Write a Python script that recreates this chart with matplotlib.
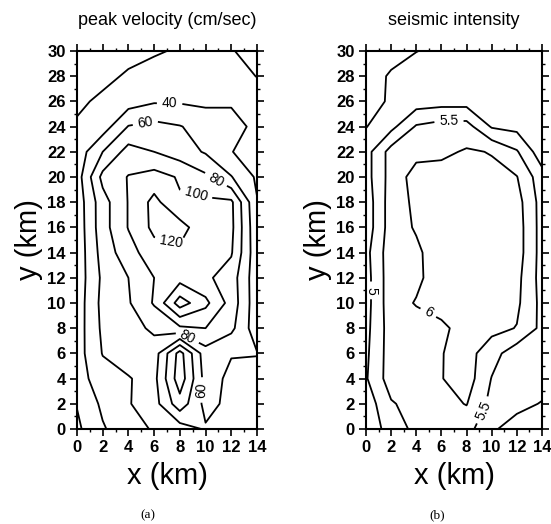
import numpy as np
import matplotlib
matplotlib.use("Agg")
import matplotlib.pyplot as plt
from matplotlib.ticker import MultipleLocator

# grid (km), 2 km spacing
x_km = [0, 2, 4, 6, 8, 10, 12, 14]
y_km = [0, 2, 4, 6, 8, 10, 12, 14, 16, 18, 20, 22, 24, 26, 28, 30]

# peak velocity (cm/sec), one row per y value
velocity = [
    [16, 38, 52, 62, 70, 58, 52, 48],
    [21, 44, 59, 68, 28, 66, 55, 52],
    [31, 51, 59, 66, 8, 68, 56, 52],
    [31, 61, 67, 70, 12, 72, 61, 61],
    [30, 64, 72, 84, 96, 100, 85, 48],
    [29, 66, 78, 102, 150, 125, 92, 47],
    [28, 64, 80, 100, 112, 104, 90, 47],
    [27, 68, 92, 112, 116, 110, 102, 46],
    [27, 72, 101, 125, 128, 106, 105, 44],
    [28, 72, 101, 126, 102, 104, 104, 41],
    [30, 86, 101, 108, 98, 84, 61, 37],
    [28, 60, 88, 80, 70, 58, 40.5, 33],
    [22, 30, 61, 66, 61, 52, 46, 36],
    [17, 23, 31, 38, 38, 36, 38, 30],
    [12, 16, 22, 27, 30, 32, 28, 19.5],
    [10, 12, 15, 18, 22, 26, 21, 14],
]

# seismic intensity
intensity = [
    [4.60, 5.25, 5.62, 5.65, 5.70, 5.05, 4.85, 4.80],
    [4.70, 5.45, 5.70, 5.85, 6.02, 5.35, 5.10, 4.98],
    [4.95, 5.75, 5.80, 5.98, 6.25, 5.48, 5.20, 5.15],
    [4.90, 5.75, 5.80, 5.98, 6.20, 5.70, 5.20, 5.20],
    [4.85, 5.75, 5.80, 5.90, 6.20, 6.15, 5.98, 5.37],
    [4.80, 5.80, 6.03, 6.20, 6.30, 6.25, 6.10, 5.35],
    [4.80, 5.80, 5.90, 6.25, 6.30, 6.30, 6.15, 5.30],
    [4.85, 5.80, 5.90, 6.30, 6.30, 6.30, 6.25, 5.30],
    [4.70, 5.75, 6.05, 6.30, 6.30, 6.30, 6.25, 5.30],
    [4.70, 5.75, 6.10, 6.30, 6.30, 6.30, 6.20, 5.30],
    [4.80, 5.70, 6.20, 6.20, 6.20, 6.10, 6.02, 5.20],
    [4.80, 5.70, 5.85, 5.90, 6.05, 5.98, 5.55, 4.70],
    [4.48, 4.85, 5.55, 5.70, 5.70, 4.95, 4.85, 4.80],
    [4.35, 4.55, 4.75, 4.80, 4.80, 4.78, 4.75, 4.70],
    [4.30, 4.55, 4.70, 4.80, 4.85, 4.85, 4.80, 4.75],
    [4.20, 4.35, 4.49, 4.60, 4.70, 4.75, 4.70, 4.60],
]

velocity_levels = [20, 40, 60, 80, 100, 120, 140]
intensity_levels = [4.5, 5.0, 5.5, 6.0]

# where the contour numbers sit
velocity_label_pos = [(7.2, 25.5), (5.3, 24.4), (10.7, 19.6), (9.2, 18.4),
                      (7.3, 14.8), (9.6, 3.1), (8.6, 7.3)]
intensity_label_pos = [(6.6, 24.4), (0.4, 11.0), (5.0, 9.3), (9.3, 1.5)]

plt.rcParams['font.family'] = ['Liberation Sans', 'DejaVu Sans']


def setup_axes(ax):
    ax.set_xlim(0, 14)
    ax.set_ylim(0, 30)
    ax.xaxis.set_major_locator(MultipleLocator(2))
    ax.yaxis.set_major_locator(MultipleLocator(2))
    ax.xaxis.set_minor_locator(MultipleLocator(1))
    ax.yaxis.set_minor_locator(MultipleLocator(1))
    ax.tick_params(which='major', direction='out', length=5, width=1.2,
                   top=True, right=True, labelsize=12, pad=3)
    ax.tick_params(which='minor', direction='out', length=2.5, width=1.0,
                   top=True, right=True)
    for lab in ax.get_xticklabels() + ax.get_yticklabels():
        lab.set_fontweight('bold')
    for sp in ax.spines.values():
        sp.set_linewidth(1.5)
    ax.set_xlabel('x (km)', fontsize=21, labelpad=5)
    ax.set_ylabel('y (km)', fontsize=21, labelpad=3)


fig = plt.figure(figsize=(5.51, 5.24), dpi=100)
ax_a = fig.add_axes([0.1397, 0.1813, 0.3267, 0.7214])
ax_b = fig.add_axes([0.6642, 0.1813, 0.3194, 0.7214])

X, Y = np.meshgrid(x_km, y_km)

cs_a = ax_a.contour(X, Y, np.array(velocity), levels=velocity_levels,
                    colors='black', linewidths=1.3)
ax_a.clabel(cs_a, fmt='%d', fontsize=10, inline=True,
            manual=velocity_label_pos)
setup_axes(ax_a)
ax_a.set_title('peak velocity (cm/sec)', fontsize=13, pad=19)

cs_b = ax_b.contour(X, Y, np.array(intensity), levels=intensity_levels,
                    colors='black', linewidths=1.3)
ax_b.clabel(cs_b, fmt='%g', fontsize=10, inline=True,
            manual=intensity_label_pos)
setup_axes(ax_b)
ax_b.set_title('seismic intensity', fontsize=13, pad=19)

fig.text(148 / 551, 1 - 515 / 524, '(a)', ha='center', va='center',
         fontsize=9.5, family='Liberation Serif')
fig.text(437 / 551, 1 - 515 / 524, '(b)', ha='center', va='center',
         fontsize=9.5, family='Liberation Serif')

fig.savefig('out.png', dpi=100)
